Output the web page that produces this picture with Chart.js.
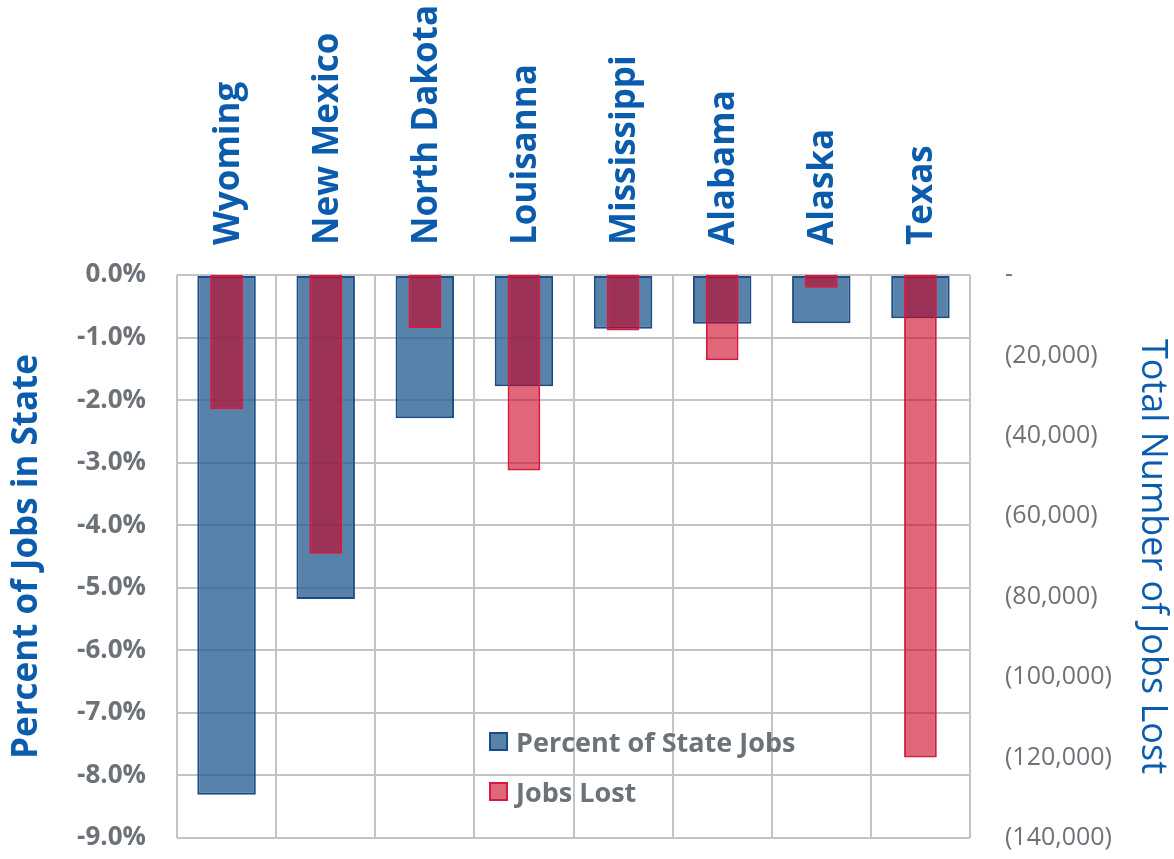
<!DOCTYPE html>
<html lang="en">
<head>
  <meta charset="UTF-8" />
  <script src="https://cdn.jsdelivr.net/npm/chart.js"></script>
  <title>Jobs Lost by State</title>
  <style>
    html, body { margin: 0; padding: 0; background: #fff; }
    #wrap { position: relative; width: 1174px; height: 859px; }
    #legend { position: absolute; left: 489px; top: 716px; font-family: "Open Sans", sans-serif;
      font-weight: bold; font-size: 27px; color: #6D7278; }
    #legend div { display: flex; align-items: center; height: 50px; }
    #legend span.box { display: inline-block; width: 15px; height: 15px; margin-right: 8px; border: 2px solid; }
  </style>
</head>
<body>
  <div id="wrap">
    <canvas id="chart" width="1174" height="859"></canvas>
    <div id="legend">
      <div><span class="box" style="background:rgba(40,95,145,0.78);border-color:#1B4C85"></span>Percent of State Jobs</div>
      <div><span class="box" style="background:rgba(203,0,33,0.6);border-color:#D8183F"></span>Jobs Lost</div>
    </div>
  </div>

  <script>
    const states = ['Wyoming', 'New Mexico', 'North Dakota', 'Louisanna', 'Mississippi', 'Alabama', 'Alaska', 'Texas'];
    const pctOfStateJobs = [-8.31, -5.18, -2.29, -1.78, -0.86, -0.78, -0.77, -0.69];
    const jobsLost = [-33400, -69300, -13200, -48600, -13800, -21200, -3200, -120000];

    const blue = '#0B5CAD';
    const gray = '#6D7278';

    // y scales add tick padding above/below the area; drop it so the plot fills the height
    function fixVertical(width) {
      return s => { s.width = width; s.paddingTop = 0; s.paddingBottom = 0; };
    }

    const ctx = document.getElementById('chart').getContext('2d');
    new Chart(ctx, {
      type: 'bar',
      data: {
        labels: states,
        datasets: [{
          label: 'Percent of State Jobs',
          data: pctOfStateJobs,
          yAxisID: 'y',
          backgroundColor: 'rgba(40,95,145,0.78)',
          borderColor: '#1B4C85',
          borderWidth: 2,
          borderSkipped: false,
          grouped: false,
          barPercentage: 1,
          categoryPercentage: 0.59,
          order: 2
        }, {
          label: 'Jobs Lost',
          data: jobsLost,
          yAxisID: 'y2',
          backgroundColor: 'rgba(203,0,33,0.6)',
          borderColor: '#D8183F',
          borderWidth: 2,
          borderSkipped: false,
          grouped: false,
          barPercentage: 1,
          categoryPercentage: 0.33,
          order: 1
        }]
      },
      options: {
        responsive: false,
        animation: false,
        layout: { padding: { top: 0, bottom: 21, left: 0, right: 0 } },
        plugins: { legend: { display: false }, tooltip: { enabled: false } },
        scales: {
          x: {
            position: 'top',
            offset: true,
            grid: { color: '#C4C4C4', lineWidth: 2, offset: true, drawTicks: false },
            border: { display: false },
            ticks: {
              minRotation: 90, maxRotation: 90, padding: 30, autoSkip: false, labelOffset: 44,
              color: blue, font: { family: 'Open Sans', weight: 'bold', size: 35 }
            },
            afterFit: s => { s.height = 275; }
          },
          y: {
            position: 'left',
            min: -9, max: 0,
            grid: { color: '#C4C4C4', lineWidth: 2, drawTicks: false },
            border: { display: false },
            ticks: {
              stepSize: 1, padding: 31, color: gray,
              font: { family: 'Open Sans', weight: 'bold', size: 26 },
              callback: v => v.toFixed(1) + '%'
            },
            title: {
              display: true, text: 'Percent of Jobs in State', color: blue,
              font: { family: 'Open Sans', weight: 'bold', size: 35 }, padding: { top: 6, bottom: 0 }
            },
            afterFit: fixVertical(177)
          },
          y2: {
            position: 'right',
            min: -140000, max: 0,
            grid: { display: false, drawTicks: false },
            border: { display: false },
            ticks: {
              stepSize: 20000, padding: 35, color: gray,
              font: { family: 'Open Sans', size: 25 },
              callback: v => v === 0 ? '-' : '(' + Math.abs(v).toLocaleString('en-US') + ')'
            },
            title: {
              display: true, text: 'Total Number of Jobs Lost', color: blue,
              font: { family: 'Open Sans', size: 36 }, padding: { top: 0, bottom: 0 }
            },
            afterFit: fixVertical(204)
          }
        }
      }
    });
  </script>
</body>
</html>
